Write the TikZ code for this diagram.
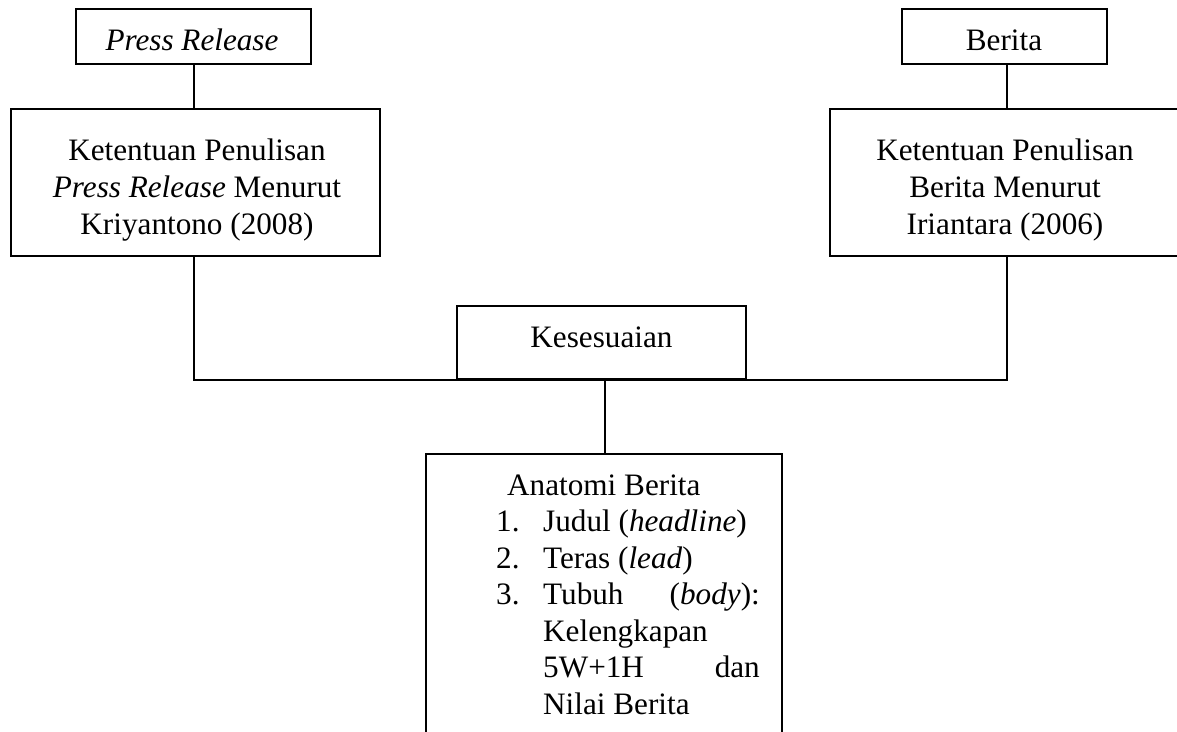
\documentclass[tikz,border=0pt]{standalone}
\usepackage{fontspec}
\setmainfont{Liberation Serif}
\usetikzlibrary{fit}
\begin{document}
\begin{tikzpicture}[x=1pt,y=-1pt,
  boxframe/.style={draw=black, line width=1.6pt, inner sep=0pt},
  conn/.style={draw=black, line width=1.6pt, line join=miter},
  txt/.style={inner sep=0pt, anchor=base, font=\fontsize{31.2}{36.5}\selectfont},
  txtw/.style={txt, anchor=base west},
  txte/.style={txt, anchor=base east}]
\useasboundingbox (0,0) rectangle (1177,731);
\clip (0,0) rectangle (1177,731);
\fill[white] (0,0) rectangle (1177,731);

% boxes
\node[boxframe, fit={(76,9) (311,64)}] (press) {};
\node[boxframe, fit={(902,9) (1107,64)}] (berita) {};
\node[boxframe, fit={(11,109) (380,256)}] (kleft) {};
\node[boxframe, fit={(830,109) (1200,256)}] (kright) {};
\node[boxframe, fit={(457,306) (746,379)}] (kes) {};
\node[boxframe, fit={(426,454) (782,780)}] (anat) {};

% connector x positions
\coordinate (lx) at (194,0);
\coordinate (rx) at (1007,0);
\coordinate (mx) at (605,0);

% connectors
\draw[conn] (press.south -| lx) -- (kleft.north -| lx);
\draw[conn] (berita.south -| rx) -- (kright.north -| rx);
\draw[conn] (kleft.south -| lx) -- (lx |- kes.south) -- (rx |- kes.south) -- (kright.south -| rx);
\draw[conn] (kes.south -| mx) -- (anat.north -| mx);

% texts
\node[txt] (tpress) at (192,50) {\textit{Press Release}};
\node[txt] (tberita) at (1004,50) {Berita};

\node[txt] (tl1) at (197,160) {Ketentuan Penulisan};
\node[txt] (tl2) at (197,197) {\textit{Press Release} Menurut};
\node[txt] (tl3) at (197,234) {Kriyantono (2008)};

\node[txt] (tr1) at (1005,160) {Ketentuan Penulisan};
\node[txt] (tr2) at (1005,197) {Berita Menurut};
\node[txt] (tr3) at (1005,234) {Iriantara (2006)};

\node[txt] (tkes) at (601.5,347) {Kesesuaian};

\node[txtw] (ta0) at (507,495) {Anatomi Berita};
\node[txtw] (tn1) at (496,531.5) {1.};
\node[txtw] (ta1) at (543,531.5) {Judul (\textit{headline})};
\node[txtw] (tn2) at (496,568) {2.};
\node[txtw] (ta2) at (543,568) {Teras (\textit{lead})};
\node[txtw] (tn3) at (496,604.5) {3.};
\node[txtw] (ta3a) at (543,604.5) {Tubuh};
\node[txte] (ta3b) at (760,604.5) {(\textit{body}):};
\node[txtw] (ta4) at (543,641) {Kelengkapan};
\node[txtw] (ta5a) at (543,677.5) {5W+1H};
\node[txte] (ta5b) at (760,677.5) {dan};
\node[txtw] (ta6) at (543,714) {Nilai Berita};
\end{tikzpicture}
\end{document}
